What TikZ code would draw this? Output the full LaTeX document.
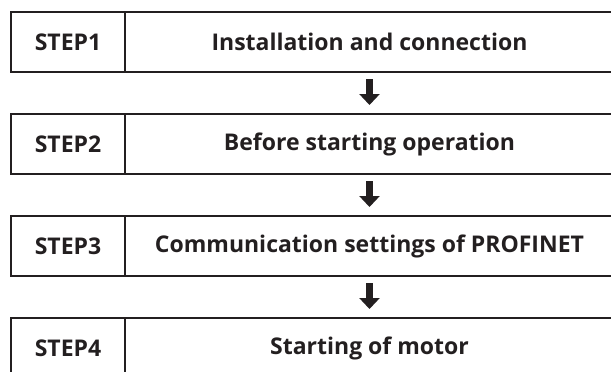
\documentclass[tikz,border=0pt]{standalone}
\usepackage{fontspec}
\setmainfont{Open Sans}
\usetikzlibrary{positioning, arrows.meta}
\definecolor{ink}{RGB}{35,31,32}

\begin{document}
\begin{tikzpicture}[x=1pt, y=1pt, node distance=42pt, line width=2pt,
    stepbox/.style={rectangle, draw=ink, outer sep=0pt, minimum width=114pt,
        minimum height=60pt, font=\fontsize{23}{28}\selectfont\bfseries, text=ink},
    taskbox/.style={stepbox, minimum width=489pt},
    flow/.style={ink, line width=7pt, -{Triangle[width=20pt, length=11pt]},
        shorten <=7pt, shorten >=9pt}]

    \useasboundingbox (0,0) rectangle (611,-372);

    \node[stepbox] (S1) at (68,-42) {STEP1};
    \node[stepbox] (S2) [below=of S1] {STEP2};
    \node[stepbox] (S3) [below=of S2] {STEP3};
    \node[stepbox] (S4) [below=of S3] {STEP4};

    \node[taskbox] (T1) [right=0pt of S1] {Installation and connection};
    \node[taskbox] (T2) [right=0pt of S2] {Before starting operation};
    \node[taskbox] (T3) [right=0pt of S3] {Communication settings of PROFINET};
    \node[taskbox] (T4) [right=0pt of S4] {Starting of motor};

    % Arrows between the steps
    \draw[flow] (T1) -- (T2);
    \draw[flow] (T2) -- (T3);
    \draw[flow] (T3) -- (T4);

\end{tikzpicture}
\end{document}
